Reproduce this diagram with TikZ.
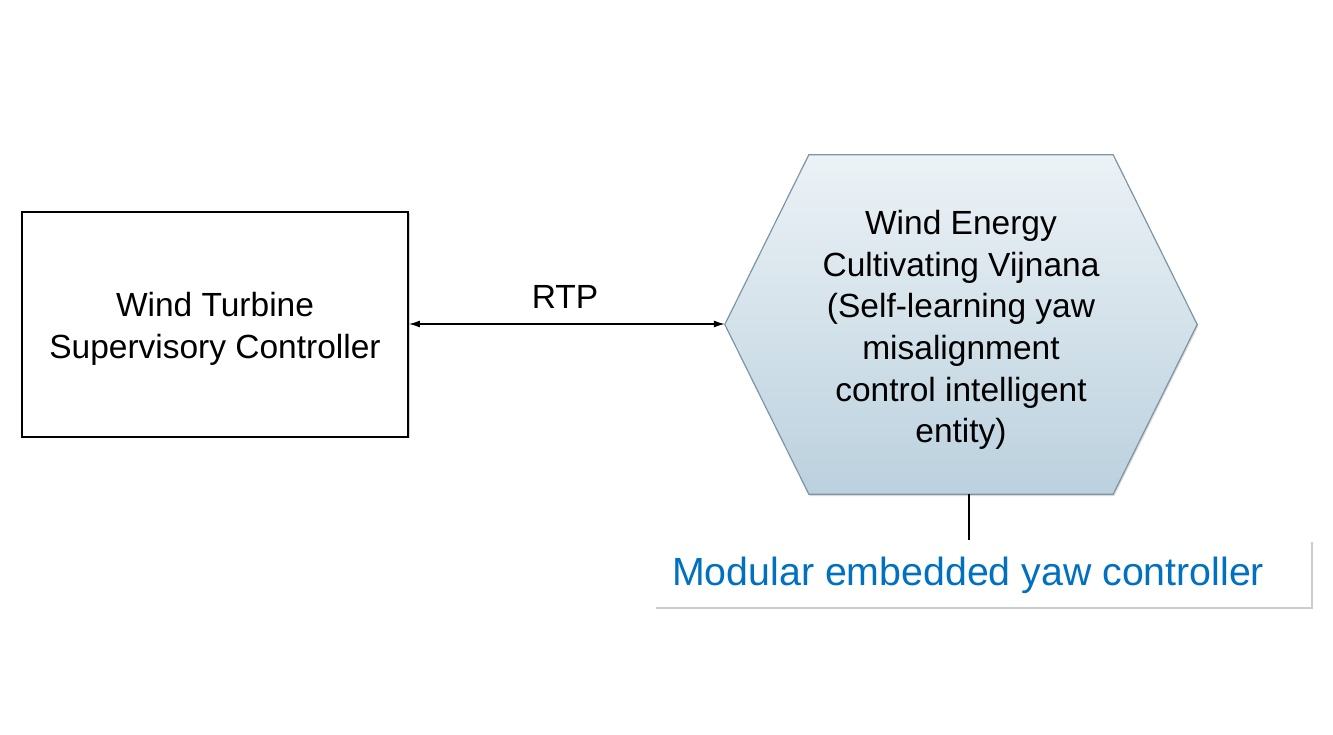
\documentclass[tikz,border=0pt]{standalone}
\usepackage{fontspec}
\setmainfont{Liberation Sans}
\usetikzlibrary{shadows,arrows.meta}
\definecolor{hexborder}{HTML}{7D95A5}
\definecolor{hextop}{HTML}{ECF2F6}
\definecolor{hexbot}{HTML}{BBD1DE}
\definecolor{callblue}{HTML}{0070C0}
\begin{document}
\begin{tikzpicture}[x=1pt,y=1pt,
  bigtext/.style={font=\fontsize{33.5}{41.7}\selectfont, align=center, text=black},
  boxstyle/.style={draw=black, line width=1.8pt, fill=white,
     drop shadow={shadow xshift=1.5pt, shadow yshift=-1.5pt, opacity=0.35},
     minimum width=386pt, minimum height=225pt, inner sep=0pt},
  hexframe/.style={minimum width=472pt, minimum height=339pt, inner sep=0pt},
  callout/.style={fill=white, minimum width=657pt, minimum height=67pt, inner sep=0pt,
     drop shadow={shadow xshift=1.5pt, shadow yshift=-2pt, opacity=0.4}},
  link/.style={line width=1.3pt, black}]
\useasboundingbox (0,0) rectangle (1333,734);
% rectangle node
\node[boxstyle] (box) at (215,409.5) {};
\node[bigtext] (boxtext) at (215,405.5) {Wind Turbine\\Supervisory Controller};
% hexagon frame
\node[hexframe] (hex) at (961,409.5) {};
\draw[hexborder, line width=1.2pt, top color=hextop, bottom color=hexbot,
      drop shadow={shadow xshift=1pt, shadow yshift=-2pt, opacity=0.3}]
  (hex.west) -- ([xshift=84pt]hex.north west) -- ([xshift=-84pt]hex.north east)
  -- (hex.east) -- ([xshift=-84pt]hex.south east) -- ([xshift=84pt]hex.south west) -- cycle;
\node[bigtext] (hextext) at (961,404) {Wind Energy\\Cultivating Vijnana\\(Self-learning yaw\\misalignment\\control intelligent\\entity)};
% arrow
\draw[link, {Latex[length=11pt,width=7pt]}-{Latex[length=11pt,width=7pt]}] (box.east |- 0,410) -- (hex.west |- 0,410);
\node[bigtext] (rtp) at (565,437) {RTP};
% callout
\node[callout] (call) at (982.5,160.5) {};
\node[anchor=west, text=callblue, font=\fontsize{39.3}{46}\selectfont, inner sep=0pt] (calltext) at (672,159) {Modular embedded yaw controller};
\draw[line width=1.2pt, black] ([xshift=8pt]hex.south) -- ([xshift=-13.5pt]call.north);
\end{tikzpicture}
\end{document}
